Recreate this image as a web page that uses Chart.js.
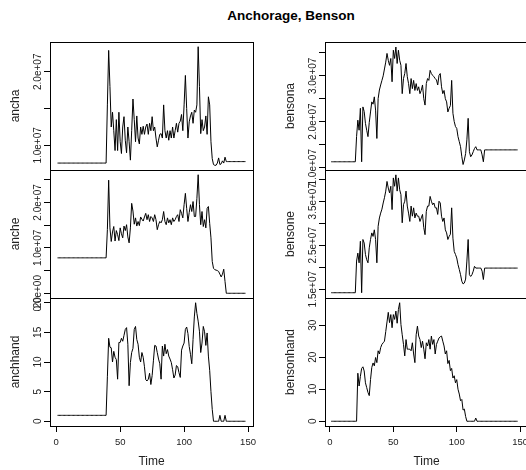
<!DOCTYPE html>
<html>
<head>
<meta charset="utf-8">
<title>Anchorage, Benson</title>
<script src="https://cdn.jsdelivr.net/npm/chart.js@4.4.1/dist/chart.umd.min.js"></script>
<style>
  html, body { margin: 0; padding: 0; background: #fff; }
  body { position: relative; width: 526px; height: 470px; overflow: hidden; }
  canvas { position: absolute; left: 0; top: 0; }
  #title {
    position: absolute; left: 191px; top: 8px; width: 200px;
    text-align: center; line-height: 18px;
    font: bold 13.5px "Liberation Sans", Arial, sans-serif; color: #000;
  }
</style>
</head>
<body>
<div id="title">Anchorage, Benson</div>
<script>
// values; the "e+07" series are kept in millions
const ancha = [
  7.6, 7.6, 7.6, 7.6, 7.6, 7.6, 7.6, 7.6, 7.6, 7.6, 7.6, 7.6, 7.6, 7.6, 7.6, 7.6, 7.6, 7.6, 7.6, 7.6,
  7.6, 7.6, 7.6, 7.6, 7.6, 7.6, 7.6, 7.6, 7.6, 7.6, 7.6, 7.6, 7.6, 7.6, 7.6, 7.6, 7.6, 7.6, 7.6,
  15.5, 22.9, 18, 12.5, 14.5, 12, 9.3, 13.5, 9.3, 14.5, 10.5, 8.9, 12.5, 13.9, 10.7, 9, 12.5, 10.5, 8, 12,
  16.3, 13.5, 10.5, 14, 11, 10.2, 12.5, 11.5, 12.6, 11.5, 12.5, 12.9, 11.5, 13, 12, 13.9, 12, 12.5, 11, 9.8,
  10.7, 11.5, 11.6, 11, 15.5, 12, 11, 12, 10.7, 12, 11, 12.5, 11, 12, 13, 11.8, 13, 13.3, 14.2, 12,
  15.5, 19.5, 15, 11, 13.2, 14, 14.5, 13, 14.8, 14.5, 15.5, 23.4, 18, 11.6, 13.5, 12, 12.5, 14, 11.5, 16.6,
  15.5, 10.5, 8.2, 7.4, 7.3, 7.3, 7.6, 8.3, 7.4, 7.5, 7.9, 7.6, 8.4, 7.8, 7.8, 7.8, 7.8, 7.8, 7.8, 7.8,
  7.8, 7.8, 7.8, 7.8, 7.8, 7.8, 7.8, 7.8, 7.8
];
const anche = [
  7.8, 7.8, 7.8, 7.8, 7.8, 7.8, 7.8, 7.8, 7.8, 7.8, 7.8, 7.8, 7.8, 7.8, 7.8, 7.8, 7.8, 7.8, 7.8, 7.8,
  7.8, 7.8, 7.8, 7.8, 7.8, 7.8, 7.8, 7.8, 7.8, 7.8, 7.8, 7.8, 7.8, 7.8, 7.8, 7.8, 7.8, 7.8, 7.8,
  14, 24.9, 14.4, 11.4, 13.5, 14.7, 11.5, 13.8, 12.9, 11.6, 14.4, 13.1, 12.2, 14.8, 13.8, 15.1, 12.4, 11.1, 14.4, 19.8,
  18.1, 15.2, 16.6, 14.8, 15.8, 14.9, 16.8, 16.3, 15.9, 16.8, 17.6, 16.2, 17.3, 15.8, 16.9, 16.6, 15.8, 17.3, 16.2, 14.0,
  15.1, 15.8, 15.5, 16.2, 18.0, 15.8, 15.1, 16.6, 15.5, 16.2, 15.1, 16.6, 15.8, 16.2, 16.9, 17.3, 15.8, 18.4, 17.6, 16.6,
  19.5, 22.0, 18.7, 15.8, 17.8, 19.5, 18.0, 20.2, 16.9, 16.9, 20.9, 26.1, 19.5, 15.1, 18.0, 14.7, 16.2, 14.4, 18.7, 19.1,
  15.4, 12.2, 7.0, 5.5, 5.2, 5.1, 5.0, 4.8, 4.2, 3.6, 4.2, 5.3, 2.6, 0, 0, 0, 0, 0, 0, 0,
  0, 0, 0, 0, 0, 0, 0, 0, 0
];
const anchhand = [
  1, 1, 1, 1, 1, 1, 1, 1, 1, 1, 1, 1, 1, 1, 1, 1, 1, 1, 1, 1,
  1, 1, 1, 1, 1, 1, 1, 1, 1, 1, 1, 1, 1, 1, 1, 1, 1, 1, 1,
  7.5, 14, 12.5, 12.4, 10, 11.8, 10.8, 10.4, 7.1, 13.3, 13.3, 14, 13.5, 14.5, 15.5, 15.8, 13, 6, 9.9, 11.6,
  12.3, 15.5, 16, 13.8, 13, 10.8, 10, 11.6, 10.8, 9.2, 7, 6.8, 7.1, 8.1, 6.2, 7.7, 10.2, 12.8, 12.7, 11.6,
  10.5, 9.7, 7.1, 12.7, 11, 13, 11.4, 12.1, 11, 10.5, 9.9, 8.7, 7.3, 7.8, 9.4, 9.2, 8.2, 7.4, 12, 12.7,
  13.2, 15.5, 15.9, 14.8, 12.6, 11.3, 9.7, 13.8, 17.6, 20, 18.2, 16.9, 15.2, 11.6, 13.2, 16, 15.1, 12.8, 14.9, 11,
  8.6, 5, 2, 0, 0, 0, 0, 0, 1, 0, 0, 0, 1, 0, 0, 0, 0, 0, 0, 0,
  0, 0, 0, 0, 0, 0, 0, 0, 0
];
const bensona = [
  11.2, 11.2, 11.2, 11.2, 11.2, 11.2, 11.2, 11.2, 11.2, 11.2, 11.2, 11.2, 11.2, 11.2, 11.2, 11.2, 11.2, 11.2, 11.2, 11.2,
  16.7, 20.3, 18.1, 22.9, 11.2, 23.2, 22.2, 19.6, 18.1, 16.7, 19.8, 22.1, 24.3, 23.8, 25.4, 22.5, 16.3, 25, 26.9, 28,
  29, 30, 31.5, 33, 34.9, 33.4, 32.3, 33.8, 28.7, 35.6, 33.8, 36.3, 32.7, 35.6, 33.4, 32.3, 26.1, 29.4, 30.5, 32.7,
  29.8, 28.3, 26.1, 29.4, 27.2, 29.0, 26.8, 28.3, 26.8, 27.6, 26.1, 26.8, 28, 25, 23.6, 28.3, 29.4, 29, 31.2, 30.5,
  30.1, 29.8, 29.4, 29.1, 28, 30.1, 30.5, 27.6, 26.1, 26.8, 25, 24.3, 22.1, 22.9, 23.5, 29, 21.8, 20, 18.9, 18.5,
  16.7, 15.6, 14.5, 12.3, 10.6, 11.6, 13, 16, 20.7, 13.4, 12.3, 12.7, 13.4, 14.1, 14.5, 13.8, 13.8, 13.8, 13.8, 12.7,
  11.2, 13.8, 13.8, 13.8, 13.8, 13.8, 13.8, 13.8, 13.8, 13.8, 13.8, 13.8, 13.8, 13.8, 13.8, 13.8, 13.8, 13.8, 13.8, 13.8,
  13.8, 13.8, 13.8, 13.8, 13.8, 13.8, 13.8, 13.8
];
const bensone = [
  14.2, 14.2, 14.2, 14.2, 14.2, 14.2, 14.2, 14.2, 14.2, 14.2, 14.2, 14.2, 14.2, 14.2, 14.2, 14.2, 14.2, 14.2, 14.2, 14.2,
  21.4, 23.2, 21, 25.9, 14.2, 26.3, 25.5, 22.9, 21.7, 21, 24.4, 26.3, 27.8, 27, 28.5, 26.3, 21, 29.3, 31.2, 32.3,
  33.2, 34.6, 35.8, 37.3, 39.5, 38, 36.9, 38.4, 33.1, 40.3, 38.4, 41, 37.3, 40.3, 37.6, 36.5, 30.1, 34.2, 35, 37.3,
  33.9, 32.3, 30.4, 33.9, 31.6, 33.5, 31.2, 32.3, 31.6, 31.6, 30.4, 31.2, 32, 29, 27.4, 32.7, 33.9, 33.9, 36.1, 35,
  34.2, 34.6, 33.5, 33.5, 32, 35, 34.6, 31.6, 30.4, 31.2, 28.5, 27.8, 26.3, 27, 27.5, 33.5, 26.6, 23.6, 22.9, 22.1,
  20.6, 19.5, 18.3, 16.8, 16.2, 16.4, 17.3, 21.4, 26.3, 18.3, 17.9, 18.3, 19.1, 20.2, 19.8, 19.8, 19.8, 19.8, 19.8, 19.1,
  17.2, 19.8, 19.8, 19.8, 19.8, 19.8, 19.8, 19.8, 19.8, 19.8, 19.8, 19.8, 19.8, 19.8, 19.8, 19.8, 19.8, 19.8, 19.8, 19.8,
  19.8, 19.8, 19.8, 19.8, 19.8, 19.8, 19.8, 19.8
];
const bensonhand = [
  0, 0, 0, 0, 0, 0, 0, 0, 0, 0, 0, 0, 0, 0, 0, 0, 0, 0, 0, 0, 0,
  15, 11, 14, 16.5, 17, 15.7, 12, 10.5, 9, 8, 13, 16.8, 18.2, 17.3, 19.9, 18.3, 22, 21, 23, 24,
  24.5, 25, 28, 31, 34, 30.8, 33.3, 29.2, 33.3, 31.8, 34.4, 30.6, 34.9, 37, 30.2, 27, 24, 20.4, 25.5, 22.5,
  22.5, 22.5, 22, 24.5, 21, 18.3, 27, 29.7, 26.6, 25.5, 23, 25, 22.5, 19.5, 24.5, 23.5, 25.5, 22.5, 26.6, 24,
  25.5, 21, 24, 25, 26, 26.4, 26.6, 25, 23.5, 21, 22, 18, 19, 15.8, 16.5, 13.5, 14.2, 12, 13, 10,
  8.5, 6.4, 6.8, 3.5, 3.8, 1.5, 0, 0, 0, 0, 0, 0, 0, 1, 0, 0, 0, 0, 0, 0,
  0, 0, 0, 0, 0, 0, 0, 0, 0, 0, 0, 0, 0, 0, 0, 0, 0, 0, 0, 0,
  0, 0, 0, 0, 0, 0, 0
];

// time index of the series (1, 2, 3, ...)
const time = ancha.map((v, i) => i + 1);
const timeTicks = [0, 50, 100, 150];

const anchaTicks = [10, 15, 20];
const anchaLabels = ['1.0e+07', '', '2.0e+07'];
const ancheTicks = [0, 5, 10, 15, 20, 25];
const ancheLabels = ['0.0e+00', '', '1.0e+07', '', '2.0e+07', ''];
const anchhandTicks = [0, 5, 10, 15, 20];
const anchhandLabels = ['0', '5', '10', '15', '20'];
const bensonaTicks = [10, 15, 20, 25, 30, 35];
const bensonaLabels = ['1.0e+07', '', '2.0e+07', '', '3.0e+07', ''];
const bensoneTicks = [15, 20, 25, 30, 35, 40];
const bensoneLabels = ['1.5e+07', '', '2.5e+07', '', '3.5e+07', ''];
const bensonhandTicks = [0, 10, 20, 30];
const bensonhandLabels = ['0', '10', '20', '30'];

// layout of the 3x2 grid of panels (right column runs past the window edge)
const W = 560, H = 470;
const colLeft = [50, 325];
const colRight = [253, 528];
const colX = [[-4.88, 153.88], [-3.9, 156.2]];
const rowTop = [42, 170, 298];
const rowBottom = [170, 298, 426];
const FONT = '"Liberation Sans", Arial, sans-serif';
const INK = '#000';
const TEXT = '#222';

const panels = [
  { name: 'ancha', values: ancha, col: 0, row: 0, yMin: 6.66, yMax: 24.04, ticks: anchaTicks, labels: anchaLabels },
  { name: 'anche', values: anche, col: 0, row: 1, yMin: -1.04, yMax: 27.14, ticks: ancheTicks, labels: ancheLabels },
  { name: 'anchhand', values: anchhand, col: 0, row: 2, yMin: -0.8, yMax: 20.8, ticks: anchhandTicks, labels: anchhandLabels },
  { name: 'bensona', values: bensona, col: 1, row: 0, yMin: 9.4, yMax: 37.4, ticks: bensonaTicks, labels: bensonaLabels },
  { name: 'bensone', values: bensone, col: 1, row: 1, yMin: 13.0, yMax: 42.1, ticks: bensoneTicks, labels: bensoneLabels },
  { name: 'bensonhand', values: bensonhand, col: 1, row: 2, yMin: -1.48, yMax: 38.48, ticks: bensonhandTicks, labels: bensonhandLabels }
];

const boxPlugin = {
  id: 'box',
  afterDraw(chart) {
    const { ctx, chartArea: a } = chart;
    ctx.save();
    ctx.strokeStyle = INK;
    ctx.lineWidth = 1;
    ctx.strokeRect(a.left + 0.5, a.top + 0.5, a.right - a.left, a.bottom - a.top);
    ctx.restore();
  }
};

function yLabelPlugin(p) {
  return {
    id: 'ylabels',
    afterDraw(chart) {
      const s = chart.scales.y;
      const ctx = chart.ctx;
      ctx.save();
      ctx.font = '10px ' + FONT;
      ctx.fillStyle = TEXT;
      ctx.textAlign = 'center';
      ctx.textBaseline = 'middle';
      p.ticks.forEach((v, i) => {
        if (!p.labels[i]) return;
        ctx.save();
        ctx.translate(chart.chartArea.left - 12, s.getPixelForValue(v));
        ctx.rotate(-Math.PI / 2);
        ctx.fillText(p.labels[i], 0, 0);
        ctx.restore();
      });
      ctx.restore();
    }
  };
}

function makeChart(p) {
  const canvas = document.createElement('canvas');
  canvas.width = W;
  canvas.height = H;
  document.body.appendChild(canvas);
  const isBottom = p.row === 2;

  new Chart(canvas, {
    type: 'line',
    data: {
      datasets: [{
        data: p.values.map((v, i) => ({ x: time[i], y: v })),
        borderColor: INK,
        borderWidth: 1,
        pointRadius: 0,
        tension: 0,
        fill: false
      }]
    },
    options: {
      responsive: false,
      animation: false,
      devicePixelRatio: 1,
      events: [],
      layout: {
        padding: {
          left: colLeft[p.col] - 50,
          right: W - colRight[p.col],
          top: rowTop[p.row],
          bottom: isBottom ? 0 : H - rowBottom[p.row]
        }
      },
      plugins: {
        legend: { display: false },
        tooltip: { enabled: false }
      },
      scales: {
        x: {
          type: 'linear',
          display: isBottom,
          min: colX[p.col][0],
          max: colX[p.col][1],
          afterBuildTicks: s => { s.ticks = timeTicks.map(v => ({ value: v })); },
          afterFit: s => { s.height = isBottom ? 44 : 0; },
          grid: { drawOnChartArea: false, drawTicks: true, tickLength: 6, color: INK },
          border: { display: false },
          ticks: {
            autoSkip: false, maxRotation: 0, padding: 5,
            font: { family: FONT, size: 9.5 }, color: TEXT
          },
          title: {
            display: true, text: 'Time', color: TEXT,
            font: { family: FONT, size: 12 },
            padding: { top: 0, bottom: 1 }
          }
        },
        y: {
          type: 'linear',
          min: p.yMin,
          max: p.yMax,
          afterBuildTicks: s => { s.ticks = p.ticks.map(v => ({ value: v })); },
          afterFit: s => { s.width = 50; },
          grid: { drawOnChartArea: false, drawTicks: true, tickLength: 6, color: INK },
          border: { display: false },
          ticks: { display: false },
          title: {
            display: true, text: p.name, color: TEXT,
            font: { family: FONT, size: 12 },
            padding: { top: 8, bottom: 0 }
          }
        }
      }
    },
    plugins: [boxPlugin, yLabelPlugin(p)]
  });
}

panels.forEach(makeChart);
</script>
</body>
</html>
